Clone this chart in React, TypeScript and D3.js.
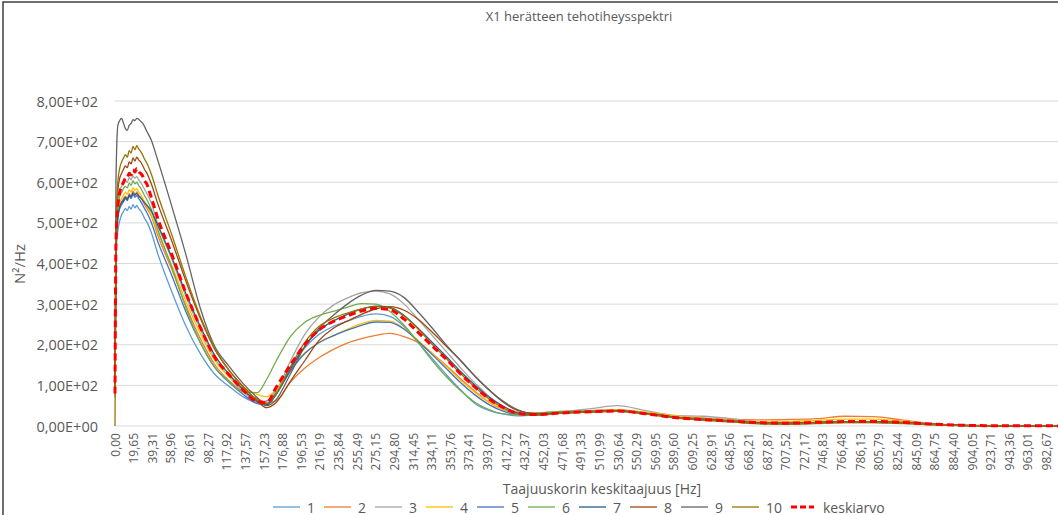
import React from 'react';
import * as d3 from 'd3';

const W = 1058;
const H = 515;

const TITLE = 'X1 herätteen tehotiheysspektri';
const X_TITLE = 'Taajuuskorin keskitaajuus [Hz]';
const Y_TITLE = 'N²/Hz';

const FREQ = [
  0, 1, 3, 5, 7, 9, 11, 13, 15, 17, 19, 21, 23, 25, 27, 29, 31, 33,
  38, 45, 60, 75, 90, 105, 120, 135, 150,
  160, 170, 185, 200, 215, 230, 245, 260, 275,
  290, 305, 320, 335, 350, 365, 380, 395, 410,
  425, 445, 470, 500, 530, 560, 590, 620, 650,
  680, 710, 740, 770, 800, 830, 860, 890, 920,
  950, 1000,
];

const S1 = [
  70, 420, 480, 505, 520, 528, 535, 530, 540, 534, 545, 537, 543, 535, 530, 522, 512, 505,
  478, 425, 330, 245, 178, 128, 98, 72, 58,
  62, 88, 145, 192, 225, 245, 258, 270, 276,
  270, 245, 205, 165, 125, 88, 55, 38, 29,
  25, 27, 32, 35, 36, 30, 22, 18, 14,
  9, 7, 8, 9, 9, 7, 4, 1.5, 0.6,
  0.3, 0.2,
];
const S2 = [
  90, 440, 520, 545, 552, 560, 566, 560, 572, 566, 578, 570, 576, 568, 562, 555, 546, 538,
  518, 470, 385, 295, 215, 152, 112, 84, 68,
  58, 62, 108, 142, 168, 188, 204, 215, 223,
  228, 220, 205, 178, 148, 115, 85, 58, 40,
  32, 32, 36, 38, 40, 33, 25, 20, 16,
  15, 16, 18, 24, 23, 15, 6, 2, 0.8,
  0.4, 0.3,
];
const S3 = [
  90, 470, 550, 580, 590, 598, 604, 600, 612, 606, 616, 610, 614, 606, 600, 592, 583, 575,
  550, 498, 410, 318, 238, 168, 122, 85, 58,
  55, 85, 160, 225, 268, 297, 315, 328, 332,
  325, 300, 262, 222, 182, 142, 105, 72, 48,
  34, 30, 35, 42, 50, 38, 26, 24, 18,
  10, 8, 9, 10, 10, 8, 4, 1.5, 0.6,
  0.3, 0.2,
];
const S4 = [
  90, 440, 525, 550, 560, 568, 575, 570, 582, 576, 587, 580, 584, 576, 570, 562, 553, 545,
  522, 478, 395, 305, 228, 162, 122, 95, 78,
  72, 90, 140, 180, 205, 222, 238, 252, 260,
  258, 240, 210, 178, 145, 112, 82, 58, 42,
  33, 31, 35, 37, 39, 34, 25, 19, 15,
  10, 11, 14, 17, 17, 12, 5, 2, 0.8,
  0.4, 0.3,
];
const S5 = [
  80, 430, 510, 535, 545, 552, 560, 555, 566, 560, 570, 563, 567, 560, 553, 545, 536, 528,
  503, 455, 370, 280, 205, 145, 108, 78, 55,
  52, 78, 135, 178, 205, 222, 236, 248, 256,
  255, 238, 208, 175, 140, 106, 76, 52, 36,
  28, 28, 33, 36, 38, 31, 22, 17, 13,
  8, 7, 8, 10, 10, 8, 4, 1.5, 0.6,
  0.3, 0.2,
];
const S6 = [
  85, 450, 535, 565, 575, 585, 590, 586, 598, 592, 604, 596, 600, 592, 586, 577, 568, 560,
  535, 485, 390, 290, 205, 145, 110, 84, 82,
  115, 160, 220, 255, 272, 282, 292, 301, 300,
  282, 248, 205, 160, 120, 86, 58, 40, 30,
  28, 32, 36, 37, 38, 30, 20, 14, 10,
  5, 4, 6, 8, 8, 6, 3, 1, 0.5,
  0.3, 0.2,
];
const S7 = [
  80, 430, 515, 540, 550, 556, 563, 558, 568, 564, 574, 568, 572, 566, 562, 556, 550, 545,
  530, 495, 415, 325, 245, 175, 128, 90, 60,
  52, 78, 140, 195, 235, 258, 275, 288, 295,
  292, 272, 240, 205, 170, 133, 100, 70, 48,
  32, 28, 32, 35, 37, 31, 22, 16, 12,
  8, 7, 9, 11, 11, 9, 5, 2, 0.8,
  0.4, 0.3,
];
const S8 = [
  90, 470, 580, 610, 622, 632, 640, 636, 650, 645, 660, 652, 662, 655, 650, 642, 632, 625,
  598, 548, 455, 355, 265, 190, 138, 98, 62,
  45, 58, 110, 160, 210, 240, 258, 275, 288,
  294, 285, 262, 230, 195, 160, 122, 88, 58,
  38, 30, 32, 35, 37, 30, 21, 16, 12,
  7, 6, 8, 10, 10, 8, 4, 1.5, 0.6,
  0.3, 0.2,
];
const S9 = [
  90, 600, 740, 752, 757, 745, 732, 728, 740, 745, 754, 752, 757, 755, 750, 746, 738, 728,
  705, 655, 540, 420, 290, 197, 148, 105, 70,
  50, 65, 128, 195, 240, 272, 300, 322, 334,
  332, 316, 280, 240, 198, 160, 122, 88, 60,
  40, 30, 33, 36, 38, 31, 22, 17, 12,
  7, 7, 9, 11, 11, 9, 5, 2, 0.8,
  0.4, 0.3,
];
const S10 = [
  0, 480, 600, 635, 650, 660, 668, 662, 678, 672, 688, 680, 690, 682, 676, 668, 658, 650,
  622, 570, 470, 365, 270, 192, 138, 96, 65,
  55, 80, 145, 205, 245, 265, 278, 288, 294,
  290, 270, 238, 200, 165, 128, 95, 66, 44,
  30, 27, 31, 34, 36, 29, 20, 15, 11,
  6, 5, 7, 9, 9, 7, 4, 1.5, 0.6,
  0.3, 0.2,
];
const MEAN = [
  80, 450, 540, 575, 590, 600, 610, 612, 622, 618, 630, 625, 634, 626, 622, 616, 604, 598,
  565, 512, 422, 326, 243, 170, 127, 89, 60,
  58, 95, 150, 200, 236, 257, 271, 283, 290,
  286, 263, 230, 196, 163, 127, 95, 66, 45,
  31, 28, 32, 35, 37, 30, 21, 16, 12,
  8, 7, 9, 11, 11, 9, 5, 2, 0.8,
  0.4, 0.3,
];

const SERIES_NAMES = ['1', '2', '3', '4', '5', '6', '7', '8', '9', '10'];
const SERIES = [S1, S2, S3, S4, S5, S6, S7, S8, S9, S10];
const COLORS = ['#5B9BD5', '#ED7D31', '#A5A5A5', '#FFC000', '#4472C4', '#70AD47', '#255E91', '#9E480E', '#636363', '#997300'];
const MEAN_NAME = 'keskiarvo';
const MEAN_COLOR = '#FF0000';

const Y_TICKS = [0, 100, 200, 300, 400, 500, 600, 700, 800];
const X_TICK_LABELS = [
  '0,00', '19,65', '39,31', '58,96', '78,61', '98,27', '117,92', '137,57', '157,23', '176,88',
  '196,53', '216,19', '235,84', '255,49', '275,15', '294,80', '314,45', '334,11', '353,76', '373,41',
  '393,07', '412,72', '432,37', '452,03', '471,68', '491,33', '510,99', '530,64', '550,29', '569,95',
  '589,60', '609,25', '628,91', '648,56', '668,21', '687,87', '707,52', '727,17', '746,83', '766,48',
  '786,13', '805,79', '825,44', '845,09', '864,75', '884,40', '904,05', '923,71', '943,36', '963,01',
  '982,67',
];

const FONT = "'Open Sans', 'Liberation Sans', sans-serif";
const TEXT_COLOR = '#595959';

function fmtExp(v: number): string {
  const s = v.toExponential(2);
  const [m, e] = s.split('e');
  const sign = e[0] === '-' ? '-' : '+';
  const digits = e.replace(/^[+-]/, '').padStart(2, '0');
  return `${m.replace('.', ',')}E${sign}${digits}`;
}

export default function App() {
  const x = d3.scaleLinear().domain([0, 1000]).range([115, 1063]);
  const y = d3.scaleLinear().domain([0, 800]).range([426, 101]);
  const line = d3
    .line<number>()
    .x((_, i) => x(FREQ[i]))
    .y((d) => y(d))
    .curve(d3.curveMonotoneX);

  const legendItems = [
    ...SERIES_NAMES.map((n, i) => ({ name: n, color: COLORS[i], dashed: false })),
    { name: MEAN_NAME, color: MEAN_COLOR, dashed: true },
  ];
  let lx = 273;
  const legendPos = legendItems.map((it) => {
    const start = lx;
    const lineLen = it.dashed ? 23 : 27;
    const textX = start + lineLen + (it.dashed ? 9 : 7);
    lx = textX + it.name.length * 8 + 9;
    return { ...it, start, lineLen, textX };
  });

  return (
    <svg
      width={W}
      height={H}
      style={{ position: 'absolute', left: 0, top: 0, background: '#fff' }}
      fontFamily={FONT}
    >
      <rect x={0} y={0} width={W} height={H} fill="#fff" />
      <rect x={3} y={2} width={W + 20} height={H + 20} fill="none" stroke="#404040" strokeWidth={1.5} />

      <text x={579} y={21} textAnchor="middle" fontSize={13} fill={TEXT_COLOR}>
        {TITLE}
      </text>

      {Y_TICKS.map((t) => (
        <line key={t} x1={115} x2={1063} y1={y(t)} y2={y(t)} stroke="#D9D9D9" strokeWidth={1} />
      ))}

      {Y_TICKS.map((t) => (
        <text
          key={t}
          x={98}
          y={y(t)}
          textAnchor="end"
          dominantBaseline="central"
          fontSize={14.5}
          fill={TEXT_COLOR}
        >
          {fmtExp(t)}
        </text>
      ))}

      <text
        transform={`translate(19,264) rotate(-90)`}
        textAnchor="middle"
        dominantBaseline="central"
        fontSize={15}
        fill={TEXT_COLOR}
      >
        {Y_TITLE}
      </text>

      {X_TICK_LABELS.map((l) => {
        const v = parseFloat(l.replace(',', '.'));
        return (
          <text
            key={l}
            transform={`translate(${x(v)},433) rotate(-90)`}
            textAnchor="end"
            dominantBaseline="central"
            fontSize={12}
            fill={TEXT_COLOR}
          >
            {l}
          </text>
        );
      })}

      <text x={602} y={494} textAnchor="middle" fontSize={14} fill={TEXT_COLOR}>
        {X_TITLE}
      </text>

      {SERIES.map((s, i) => (
        <path key={i} d={line(s) || ''} fill="none" stroke={COLORS[i]} strokeWidth={1.3} />
      ))}
      <path d={line(MEAN) || ''} fill="none" stroke={MEAN_COLOR} strokeWidth={3} strokeDasharray="7,4" />

      {legendPos.map((it) => (
        <g key={it.name}>
          <line
            x1={it.start}
            x2={it.start + it.lineLen}
            y1={507}
            y2={507}
            stroke={it.color}
            strokeWidth={it.dashed ? 3 : 1.3}
            strokeDasharray={it.dashed ? '6,3' : undefined}
          />
          <text x={it.textX} y={507} dominantBaseline="central" fontSize={14} fill={TEXT_COLOR}>
            {it.name}
          </text>
        </g>
      ))}
    </svg>
  );
}
